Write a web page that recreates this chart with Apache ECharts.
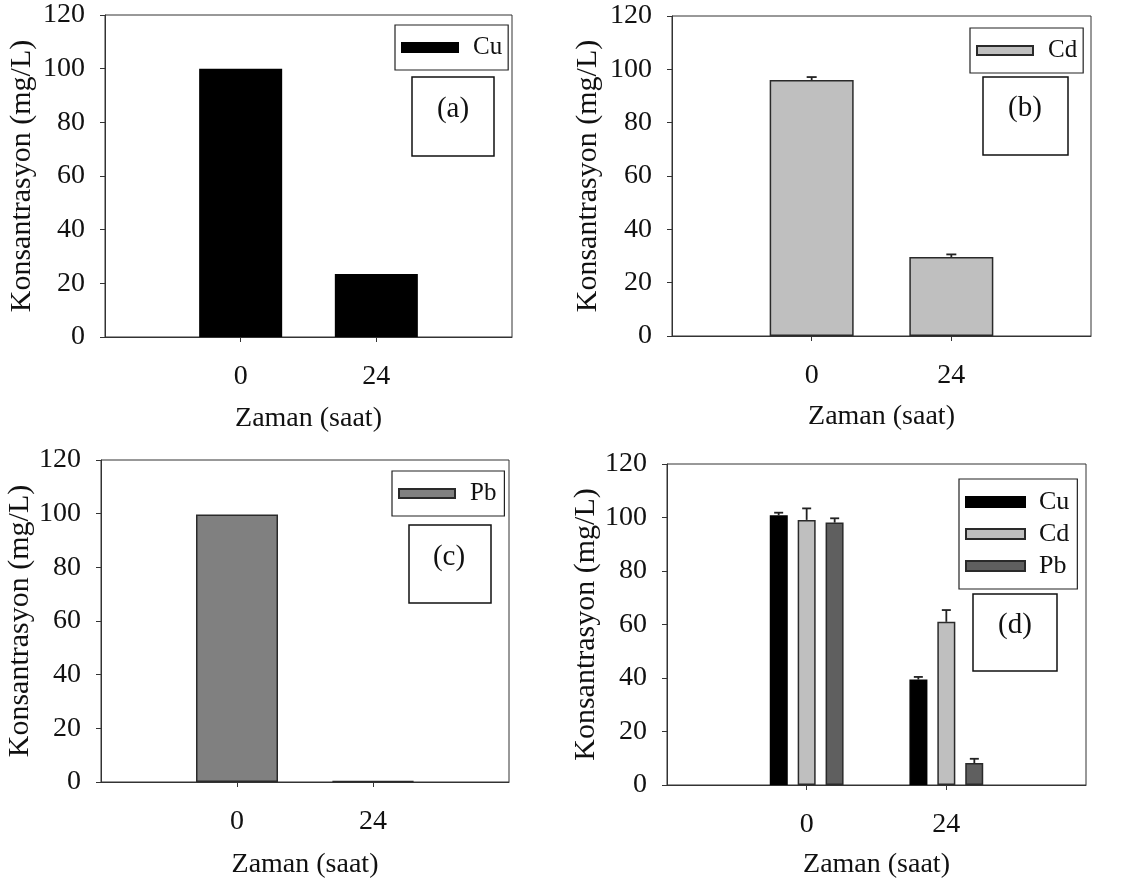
<!DOCTYPE html>
<html>
<head>
<meta charset="utf-8">
<script src="https://cdn.jsdelivr.net/npm/echarts@6/dist/echarts.min.js"></script>
<style>html,body{margin:0;padding:0;background:#fff}#c{width:1127px;height:884px}</style>
</head>
<body>
<div id="c"></div>
<script>
// ---- data ----
const timeLabels = ['0', '24'];
const yTicks = [0, 20, 40, 60, 80, 100, 120];
const cuA = [100, 23.5];
const cdB = [96.0, 29.6];
const cdBErr = [1.1, 1.0];
const pbC = [99.7, 0.3];
const cuD = [100.8, 39.4];
const cuDErr = [1.0, 1.0];
const cdD = [99.1, 61.0];
const cdDErr = [4.3, 4.4];
const pbD = [98.1, 8.2];
const pbDErr = [1.6, 1.6];
const yTitle = 'Konsantrasyon (mg/L)';
const xTitle = 'Zaman (saat)';

// ---- build ----
const FONT = '"Liberation Serif", "Times New Roman", serif';
const INK = '#111';
const cats = [''].concat(timeLabels, ['']);
const pad = arr => ['-'].concat(arr, ['-']);
const C_CU = '#000000', C_CD = '#bfbfbf', C_PBC = '#808080', C_PBD = '#5f5f5f', EDGE = '#2a2a2a';

const grids = [
  {left: 105, top: 15, width: 407, height: 322},
  {left: 672, top: 16, width: 419, height: 320},
  {left: 101, top: 460, width: 408, height: 322},
  {left: 667, top: 464, width: 419, height: 321}
];
const yNameGap = [68, 69, 61, 64];
const xNameGap = [68, 67, 69, 66];

const xAxes = grids.map((g, i) => ({
  type: 'category', gridIndex: i, data: cats, boundaryGap: false,
  axisLine: {lineStyle: {color: '#333', width: 1}},
  axisTick: {show: true, length: 5, inside: false, interval: (idx, v) => v !== '', lineStyle: {color: '#333'}},
  axisLabel: {fontFamily: FONT, fontSize: 28, color: INK, margin: 26, interval: 0},
  name: xTitle, nameLocation: 'middle', nameGap: xNameGap[i],
  nameTextStyle: {fontFamily: FONT, fontSize: 28, color: INK},
  splitLine: {show: false}
}));
const yAxes = grids.map((g, i) => ({
  type: 'value', gridIndex: i, min: yTicks[0], max: yTicks[yTicks.length - 1], interval: yTicks[1] - yTicks[0],
  axisLine: {show: true, lineStyle: {color: '#333', width: 1}},
  axisTick: {show: true, length: 5, inside: false, lineStyle: {color: '#333'}},
  axisLabel: {fontFamily: FONT, fontSize: 28, color: INK, margin: 20},
  splitLine: {show: false},
  name: yTitle, nameLocation: 'middle', nameGap: yNameGap[i], nameRotate: 90,
  nameTextStyle: {fontFamily: FONT, fontSize: 30, color: INK}
}));

function bar(name, idx, vals, color, width, extra) {
  return Object.assign({
    type: 'bar', name: name, xAxisIndex: idx, yAxisIndex: idx, data: pad(vals), barWidth: width,
    itemStyle: {color: color, borderColor: color === C_CU ? '#000' : EDGE, borderWidth: 1.5},
    emphasis: {disabled: true}, animation: false
  }, extra || {});
}
function err(idx, vals, errs, offset, cap) {
  const data = vals.map((v, i) => [i + 1, v, errs[i]]);
  return {
    type: 'custom', xAxisIndex: idx, yAxisIndex: idx, data: data, encode: {x: 0, y: 1}, z: 5,
    animation: false, silent: true,
    renderItem: (params, api) => {
      const base = api.coord([api.value(0), api.value(1)]);
      const top = api.coord([api.value(0), api.value(1) + api.value(2)]);
      const x = base[0] + offset;
      const st = {stroke: '#222', lineWidth: 1.8};
      return {type: 'group', children: [
        {type: 'line', shape: {x1: x, y1: base[1], x2: x, y2: top[1]}, style: st},
        {type: 'line', shape: {x1: x - cap / 2, y1: top[1], x2: x + cap / 2, y2: top[1]}, style: st}
      ]};
    }
  };
}

const legendBase = {
  icon: 'rect', orient: 'vertical', itemWidth: 56, itemHeight: 9,
  borderColor: '#222', borderWidth: 1.2, backgroundColor: '#fff',
  formatter: n => n.trim(),
  textStyle: {fontFamily: FONT, fontSize: 25, color: INK, padding: [0, 0, 0, 10]},
  selectedMode: false
};

const legends = [
  Object.assign({}, legendBase, {data: ['Cu'], left: 395, top: 25, padding: [10, 6, 10, 6]}),
  Object.assign({}, legendBase, {data: ['Cd '], left: 970, top: 28, padding: [10, 6, 10, 6]}),
  Object.assign({}, legendBase, {data: ['Pb '], left: 392, top: 471, padding: [10, 8, 10, 6]}),
  Object.assign({}, legendBase, {data: ['Cu', 'Cd', 'Pb'], left: 959, top: 479, padding: [10, 8, 10, 6], itemWidth: 59, itemHeight: 10, itemGap: 6, textStyle: Object.assign({}, legendBase.textStyle, {fontSize: 26, padding: [0, 0, 0, 9]})})
];

function labelBox(x, y, w, h, tx, ty, t) {
  return {type: 'group', children: [
    {type: 'rect', shape: {x: x, y: y, width: w, height: h}, style: {fill: '#fff', stroke: '#111', lineWidth: 1.5}},
    {type: 'text', x: tx, y: ty, style: {text: t, font: '29px ' + FONT, fill: INK, align: 'center', verticalAlign: 'middle'}}
  ]};
}

const series = [
  bar('Cu', 0, cuA, C_CU, 83),
  bar('Cd ', 1, cdB, C_CD, 84),
  err(1, cdB, cdBErr, 0, 10),
  bar('Pb ', 2, pbC, C_PBC, 82),
  bar('Cu', 3, cuD, C_CU, 18, {barGap: '55%'}),
  bar('Cd', 3, cdD, C_CD, 18, {barGap: '55%'}),
  bar('Pb', 3, pbD, C_PBD, 18, {barGap: '55%'}),
  err(3, cuD, cuDErr, -28, 9),
  err(3, cdD, cdDErr, 0, 9),
  err(3, pbD, pbDErr, 28, 9)
];

const chart = echarts.init(document.getElementById('c'), null, {renderer: 'canvas'});
chart.setOption({
  backgroundColor: '#fff',
  animation: false,
  grid: grids.map(g => Object.assign({show: true, borderColor: '#333', borderWidth: 1, backgroundColor: 'transparent', containLabel: false}, g)),
  xAxis: xAxes,
  yAxis: yAxes,
  legend: legends,
  series: series,
  graphic: [
    labelBox(412, 77, 82, 79, 453, 109, '(a)'),
    labelBox(983, 77, 85, 78, 1025, 108, '(b)'),
    labelBox(409, 525, 82, 78, 449, 557, '(c)'),
    labelBox(973, 594, 84, 77, 1015, 625, '(d)')
  ]
});
</script>
</body>
</html>
